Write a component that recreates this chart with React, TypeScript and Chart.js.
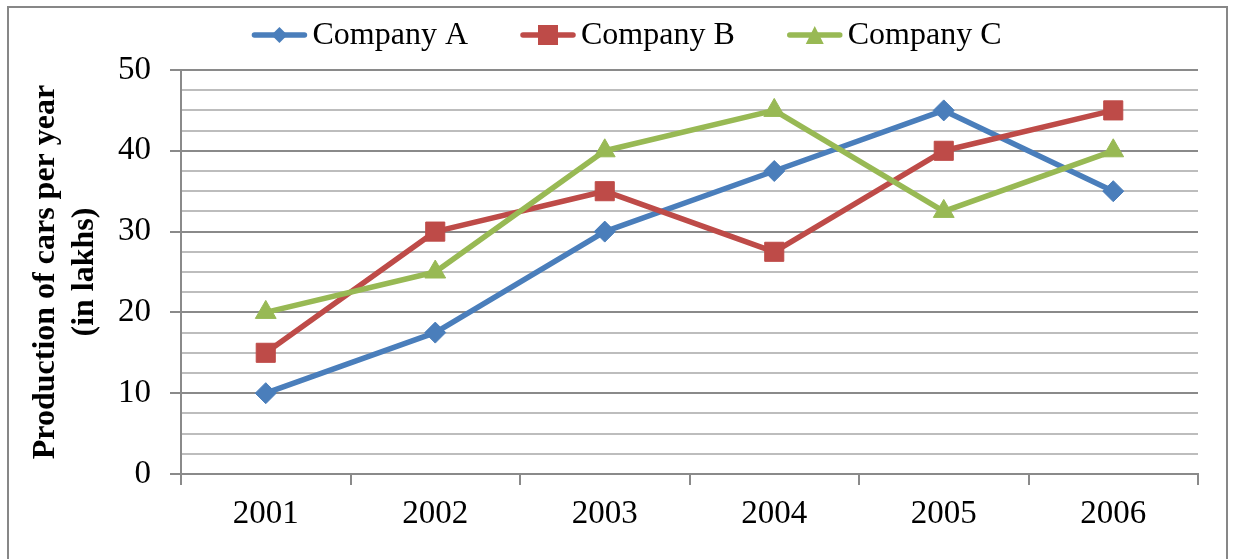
import React, { useEffect, useRef } from 'react';
import { Chart, registerables } from 'chart.js';

Chart.register(...registerables);

// ---- data ----
const years = ['2001', '2002', '2003', '2004', '2005', '2006'];
const companyA = [10, 17.5, 30, 37.5, 45, 35];
const companyB = [15, 30, 35, 27.5, 40, 45];
const companyC = [20, 25, 40, 45, 32.5, 40];
const seriesLabels = ['Company A', 'Company B', 'Company C'];
const seriesColors = ['#4A7EBB', '#BE4B48', '#98B954'];
const seriesMarkers = ['rectRot', 'rect', 'triangle'];
const yTitle = ['Production of cars per year', '(in lakhs)'];
const yMin = 0;
const yMax = 50;
const yMinorStep = 2.5;
const yMajorStep = 10;

const FONT = '"Liberation Serif", "Times New Roman", serif';
const MAJOR = '#8A8A8A';
const MINOR = '#BDBDBD';

function drawMarker(ctx: CanvasRenderingContext2D, style: string, x: number, y: number, size: number, color: string) {
  ctx.fillStyle = color;
  ctx.beginPath();
  const r = size / 2;
  if (style === 'rectRot') {
    ctx.moveTo(x, y - r);
    ctx.lineTo(x + r, y);
    ctx.lineTo(x, y + r);
    ctx.lineTo(x - r, y);
  } else if (style === 'rect') {
    ctx.rect(x - r, y - r, size, size);
  } else {
    ctx.moveTo(x, y - r);
    ctx.lineTo(x + r, y + r);
    ctx.lineTo(x - r, y + r);
  }
  ctx.closePath();
  ctx.fill();
}

const legendMarkerSizes: Record<string, number> = { rectRot: 16, rect: 20, triangle: 18 };

const framePlugin = {
  id: 'frame',
  beforeDraw(chart: any) {
    const { ctx, width, height } = chart;
    ctx.save();
    ctx.fillStyle = '#FFFFFF';
    ctx.fillRect(0, 0, width, height);
    ctx.strokeStyle = '#878787';
    ctx.lineWidth = 2;
    ctx.strokeRect(8, 7, width - 16, height + 10);
    ctx.restore();
  },
};

const excelLegend = {
  id: 'excelLegend',
  afterDraw(chart: any) {
    const ctx: CanvasRenderingContext2D = chart.ctx;
    ctx.save();
    ctx.font = `32px ${FONT}`;
    const lineLen = 56;
    const gapText = 5;
    const gapItem = 52;
    const items = chart.data.datasets.map((ds: any) => ({
      ds,
      w: lineLen + gapText + ctx.measureText(ds.label).width,
    }));
    const total = items.reduce((s: number, it: any) => s + it.w, 0) + gapItem * (items.length - 1);
    let x = chart.width / 2 + 9 - total / 2;
    const y = 35;
    items.forEach((it: any) => {
      const color = it.ds.borderColor;
      ctx.strokeStyle = color;
      ctx.lineWidth = 5.5;
      ctx.lineCap = 'round';
      ctx.beginPath();
      ctx.moveTo(x + 3, y);
      ctx.lineTo(x + lineLen - 3, y);
      ctx.stroke();
      drawMarker(ctx, it.ds.pointStyle, x + lineLen / 2, y, legendMarkerSizes[it.ds.pointStyle], color);
      ctx.fillStyle = '#000000';
      ctx.textBaseline = 'middle';
      ctx.textAlign = 'left';
      ctx.fillText(it.ds.label, x + lineLen + gapText, y + 1);
      x += it.w + gapItem;
    });
    ctx.restore();
  },
};

export default function App() {
  const canvasRef = useRef<HTMLCanvasElement | null>(null);

  useEffect(() => {
    if (!canvasRef.current) return;
    const seriesData = [companyA, companyB, companyC];
    const radii: Record<string, number> = { rectRot: 10.5, rect: 13.5, triangle: 12 };
    const chart = new Chart(canvasRef.current, {
      type: 'line',
      data: {
        labels: years,
        datasets: seriesData.map((d, i) => ({
          label: seriesLabels[i],
          data: d,
          borderColor: seriesColors[i],
          backgroundColor: seriesColors[i],
          pointBackgroundColor: seriesColors[i],
          pointBorderColor: seriesColors[i],
          pointBorderWidth: 1,
          pointStyle: seriesMarkers[i] as any,
          pointRadius: radii[seriesMarkers[i]],
          borderWidth: 5.5,
          borderJoinStyle: 'round' as const,
          tension: 0,
          fill: false,
          order: seriesData.length - i,
        })),
      },
      options: {
        animation: false,
        responsive: true,
        maintainAspectRatio: false,
        layout: { padding: { top: 70, left: 8, right: 37, bottom: 0 } },
        plugins: {
          legend: { display: false },
          tooltip: { enabled: false },
        },
        scales: {
          x: {
            offset: true,
            afterFit: (s: any) => {
              s.height = 85;
            },
            grid: {
              display: true,
              offset: true,
              drawOnChartArea: false,
              drawTicks: true,
              tickLength: 11,
              color: MAJOR,
              lineWidth: 2,
            },
            border: { display: true, color: MAJOR, width: 2 },
            ticks: {
              color: '#000000',
              font: { family: FONT, size: 33 },
              padding: 10,
              maxRotation: 0,
            },
          },
          y: {
            min: yMin,
            max: yMax,
            afterFit: (s: any) => {
              s.width = 173;
            },
            grid: {
              color: (c: any) => (c.tick && c.tick.value % yMajorStep === 0 ? MAJOR : MINOR),
              tickColor: (c: any) => (c.tick && c.tick.value % yMajorStep === 0 ? MAJOR : 'rgba(0,0,0,0)'),
              lineWidth: 2,
              tickLength: 11,
              drawTicks: true,
            },
            border: { display: true, color: MAJOR, width: 2 },
            ticks: {
              stepSize: yMinorStep,
              autoSkip: false,
              color: '#000000',
              font: { family: FONT, size: 33 },
              padding: 19,
              callback: (v: any) => (Number(v) % yMajorStep === 0 ? String(v) : ''),
            },
            title: {
              display: true,
              text: yTitle,
              color: '#000000',
              font: { family: FONT, size: 32, weight: 'bold' },
              padding: { top: 19, bottom: 0 },
            },
          },
        },
      },
      plugins: [framePlugin, excelLegend],
    });
    return () => chart.destroy();
  }, []);

  return (
    <div style={{ position: 'fixed', left: 0, top: 0, width: 1235, height: 559, background: '#fff' }}>
      <canvas ref={canvasRef} />
    </div>
  );
}
